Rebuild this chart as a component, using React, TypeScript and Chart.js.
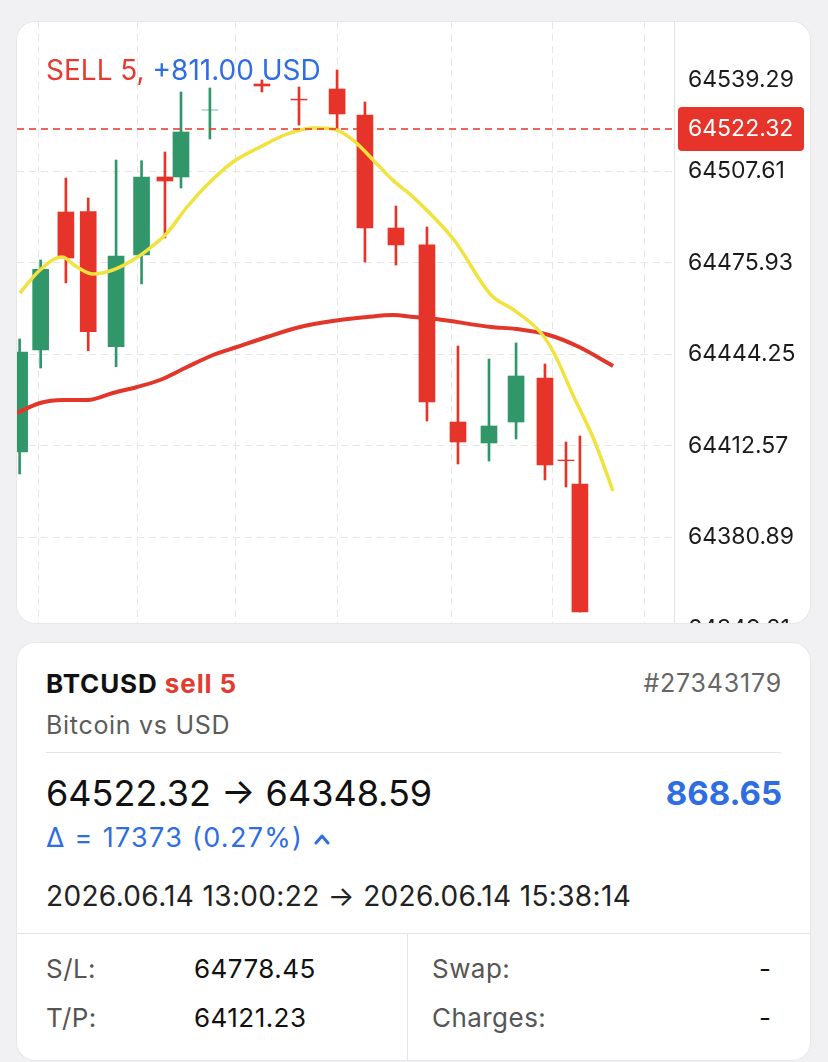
import React, { useEffect, useRef } from "react";
import { Chart, registerables } from "chart.js";

Chart.register(...registerables);

// ---- Data ----
// Bar time positions (bar-period units from the left edge of the visible plot)
const barTime = [0.1, 0.9, 1.86, 2.71, 3.77, 4.74, 5.63, 6.24, 7.34, 9.32, 10.73, 12.18, 13.24, 14.42, 15.6, 16.78, 17.96, 18.99, 20.09, 20.89, 21.42];
const openPrice = [64410.43, 64445.77, 64493.59, 64493.69, 64446.91, 64478.69, 64505.72, 64505.72, 64528.93, 64537.94, 64532.7, 64536.21, 64527.2, 64488.04, 64482.17, 64420.82, 64413.55, 64420.82, 64436.07, 64407.65, 64399.34];
const highPrice = [64449.58, 64476.95, 64505.37, 64498.44, 64511.61, 64511.36, 64514.38, 64535.17, 64536.56, 64539.33, 64536.9, 64542.79, 64531.7, 64495.67, 64488.39, 64447.16, 64442.65, 64448.2, 64440.92, 64413.89, 64415.97];
const lowPrice = [64402.8, 64439.53, 64469.01, 64445.53, 64439.98, 64468.66, 64484.58, 64501.9, 64518.88, 64535.17, 64523.73, 64521.65, 64476.26, 64475.22, 64421.17, 64406.27, 64407.31, 64414.93, 64400.73, 64398.3, 64354.99];
const closePrice = [64445.08, 64473.73, 64477.65, 64452.11, 64478.34, 64505.72, 64504.33, 64521.31, 64528.93, 64537.25, 64532.4, 64527.55, 64488.04, 64482.17, 64427.75, 64413.89, 64419.44, 64436.76, 64405.92, 64407.4, 64354.99];

// Slow moving average (red)
const slowMaTime = [0, 0.875, 1.75, 2.7, 3.65, 4.57, 5.44, 6.47, 7.46, 8.37, 9.51, 10.77, 12.02, 13.32, 14.31, 15.11, 15.94, 18.04, 18.99, 20.24, 21.39, 22.68];
const slowMaValue = [64423.94, 64427.41, 64428.45, 64428.45, 64430.87, 64432.95, 64435.37, 64439.88, 64444.04, 64446.81, 64450.28, 64453.74, 64455.82, 64457.2, 64457.9, 64457.2, 64456.51, 64453.74, 64453.05, 64450.97, 64446.81, 64440.23];

// Fast moving average (yellow)
const fastMaTime = [0.11, 0.875, 1.71, 2.28, 2.89, 3.65, 4.41, 5.06, 5.71, 6.47, 7.23, 8.22, 9.25, 10.27, 11.26, 12.02, 12.79, 13.55, 14.31, 15.11, 16.63, 18.04, 18.91, 19.94, 20.43, 21.19, 21.96, 22.68];
const fastMaValue = [64465.52, 64473.49, 64477.99, 64474.53, 64472.1, 64473.49, 64476.95, 64481.11, 64486.31, 64495.32, 64502.94, 64510.91, 64516.11, 64520.54, 64522.69, 64522.35, 64518.53, 64511.61, 64504.54, 64498.44, 64483.88, 64464.83, 64459.63, 64451.66, 64444.73, 64429.49, 64414.59, 64396.92];

// Axis ticks / ranges
const yTickValues = [64539.29, 64507.61, 64475.93, 64444.25, 64412.57, 64380.89, 64349.21];
const xGridTime = [0.8, 4.57, 8.33, 12.21, 16.55, 20.36, 23.87];
const X_MIN = 0;
const X_MAX = 25;
const Y_MIN = 64342.86;
const Y_MAX = 64559.42;
const ENTRY_PRICE = 64522.32;

// ---- Styles ----
const UP = "#31976a";
const DOWN = "#e6342a";
const YELLOW = "#f2e23e";
const MA_RED = "#e2362b";
const GRID = "#e6e6e6";
const BLUE = "#2e6de2";
const RED_TXT = "#e33b2f";
const BG = "#f1f1f3";
const FONT = "Inter, 'Noto Sans', sans-serif";

const entryPlugin = {
  id: "entryLine",
  afterDatasetsDraw(chart: any) {
    const { ctx, chartArea, scales } = chart;
    const py = scales.y.getPixelForValue(ENTRY_PRICE);
    ctx.save();
    ctx.strokeStyle = DOWN;
    ctx.lineWidth = 1.5;
    ctx.setLineDash([7, 5]);
    ctx.beginPath();
    ctx.moveTo(chartArea.left, py);
    ctx.lineTo(chartArea.right, py);
    ctx.stroke();
    ctx.restore();
  },
  afterDraw(chart: any) {
    const { ctx, chartArea, scales } = chart;
    const py = scales.y.getPixelForValue(ENTRY_PRICE);
    const x = chartArea.right + 4;
    const w = 126;
    const h = 44;
    ctx.save();
    ctx.fillStyle = DOWN;
    ctx.beginPath();
    (ctx as any).roundRect(x, py - h / 2, w, h, 4);
    ctx.fill();
    ctx.fillStyle = "#ffffff";
    ctx.font = `23px ${FONT}`;
    ctx.textBaseline = "middle";
    ctx.textAlign = "left";
    ctx.fillText(ENTRY_PRICE.toFixed(2), chartArea.right + 14, py);
    ctx.restore();
  },
};

function CandleChart() {
  const ref = useRef<HTMLCanvasElement | null>(null);
  useEffect(() => {
    if (!ref.current) return;
    const colors = closePrice.map((c, i) => (c >= openPrice[i] ? UP : DOWN));
    const chart = new Chart(ref.current, {
      type: "bar",
      data: {
        datasets: [
          {
            type: "line",
            label: "MA fast",
            data: fastMaTime.map((t, i) => ({ x: t, y: fastMaValue[i] })),
            borderColor: YELLOW,
            borderWidth: 3.5,
            pointRadius: 0,
            cubicInterpolationMode: "monotone",
            order: 0,
          } as any,
          {
            type: "line",
            label: "MA slow",
            data: slowMaTime.map((t, i) => ({ x: t, y: slowMaValue[i] })),
            borderColor: MA_RED,
            borderWidth: 4,
            pointRadius: 0,
            cubicInterpolationMode: "monotone",
            order: 0,
          } as any,
          {
            type: "bar",
            label: "body",
            data: barTime.map((t, i) => ({ x: t, y: [openPrice[i], closePrice[i]] })),
            backgroundColor: colors,
            borderWidth: 0,
            barThickness: 16,
            grouped: false,
            order: 1,
          } as any,
          {
            type: "bar",
            label: "wick",
            data: barTime.map((t, i) => ({ x: t, y: [lowPrice[i], highPrice[i]] })),
            backgroundColor: colors,
            borderWidth: 0,
            barThickness: 2,
            grouped: false,
            order: 2,
          } as any,
        ],
      },
      options: {
        responsive: false,
        animation: false,
        devicePixelRatio: 1,
        layout: { padding: 0, autoPadding: false },
        plugins: { legend: { display: false }, tooltip: { enabled: false } },
        scales: {
          x: {
            type: "linear",
            min: X_MIN,
            max: X_MAX,
            offset: false,
            grid: { color: GRID, lineWidth: 1, drawTicks: false, offset: false },
            border: { display: false, dash: [7, 5] },
            ticks: { display: false },
            afterBuildTicks: (s: any) => {
              s.ticks = xGridTime.map((v) => ({ value: v }));
            },
            afterFit: (s: any) => {
              s.height = 0;
              s.paddingLeft = 0;
              s.paddingRight = 0;
            },
          },
          y: {
            type: "linear",
            position: "right",
            min: Y_MIN,
            max: Y_MAX,
            grid: {
              color: (c: any) => (c.tick && c.tick.value === yTickValues[0] ? "rgba(0,0,0,0)" : GRID),
              lineWidth: 1,
              drawTicks: false,
            },
            border: { display: true, color: "#e2e2e2", width: 1, dash: [7, 5] },
            ticks: {
              padding: 14,
              color: "#1b1b1b",
              font: { family: FONT, size: 23 },
              autoSkip: false,
              callback: (v: any) => Number(v).toFixed(2),
            },
            afterBuildTicks: (s: any) => {
              s.ticks = yTickValues.map((v) => ({ value: v }));
            },
            afterFit: (s: any) => {
              s.width = 136;
              s.paddingTop = 0;
              s.paddingBottom = 0;
            },
          },
        },
      } as any,
      plugins: [entryPlugin],
    });
    return () => chart.destroy();
  }, []);
  return (
    <canvas
      ref={ref}
      width={793}
      height={625}
      style={{ position: "absolute", left: 0, top: 0, width: 793, height: 625 }}
    />
  );
}

type TProps = {
  x?: number;
  right?: number;
  base: number;
  size: number;
  color?: string;
  weight?: number;
  ls?: number;
  children: React.ReactNode;
};

function T({ x, right, base, size, color = "#111", weight = 400, ls = 0, children }: TProps) {
  const style: React.CSSProperties = {
    position: "absolute",
    top: base - 0.864 * size,
    fontSize: size,
    lineHeight: `${size}px`,
    color,
    fontWeight: weight,
    whiteSpace: "nowrap",
    fontFamily: FONT,
    letterSpacing: ls,
  };
  if (x !== undefined) style.left = x;
  if (right !== undefined) style.right = right;
  return <div style={style}>{children}</div>;
}

export default function App() {
  useEffect(() => {
    document.body.style.margin = "0";
    document.body.style.background = BG;
  }, []);
  return (
    <div
      style={{
        position: "relative",
        width: 828,
        height: 1062,
        background: BG,
        overflow: "hidden",
        fontFamily: FONT,
      }}
    >
      {/* Chart card */}
      <div
        style={{
          position: "absolute",
          left: 17,
          top: 22,
          width: 793,
          height: 601,
          background: "#ffffff",
          borderRadius: 18,
          overflow: "hidden",
          boxShadow: "0 0 0 1px #e7e7ea",
        }}
      >
        <CandleChart />
        <T x={29} base={58} size={28}>
          <span style={{ color: RED_TXT }}>SELL 5,</span>
          <span style={{ color: BLUE }}> +811.00 USD</span>
        </T>
      </div>

      {/* Details card */}
      <div
        style={{
          position: "absolute",
          left: 17,
          top: 643,
          width: 793,
          height: 417,
          background: "#ffffff",
          borderRadius: 18,
          overflow: "hidden",
          boxShadow: "0 0 0 1px #e7e7ea",
        }}
      >
        <T x={29} base={50} size={26} weight={700} color="#111" ls={0.9}>
          BTCUSD <span style={{ color: RED_TXT }}>sell 5</span>
        </T>
        <T right={28} base={50} size={25} color="#666" ls={0.8}>
          #27343179
        </T>
        <T x={29} base={92} size={25} color="#5c5c5c" ls={0.7}>
          Bitcoin vs USD
        </T>
        <div style={{ position: "absolute", left: 29, right: 29, top: 109, height: 1, background: "#e4e4e6" }} />
        <T x={29} base={163} size={36} color="#111">
          64522.32 → 64348.59
        </T>
        <T right={28} base={163} size={33} weight={700} color={BLUE}>
          868.65
        </T>
        <T x={29} base={204} size={27} color={BLUE} ls={1.3}>
          Δ = 17373 (0.27%)
          <svg width="18" height="12" viewBox="0 0 18 12" style={{ marginLeft: 10, verticalAlign: "middle" }}>
            <polyline points="3,10 9,3 15,10" fill="none" stroke={BLUE} strokeWidth="3" strokeLinecap="round" strokeLinejoin="round" />
          </svg>
        </T>
        <T x={29} base={263} size={28} color="#222" ls={0.35}>
          2026.06.14 13:00:22 → 2026.06.14 15:38:14
        </T>
        <div style={{ position: "absolute", left: 0, right: 0, top: 290, height: 1, background: "#e4e4e6" }} />
        <div style={{ position: "absolute", left: 390, top: 290, bottom: 0, width: 1, background: "#e4e4e6" }} />
        <T x={29} base={335} size={26} color="#555" ls={0.45}>S/L:</T>
        <T x={177} base={335} size={26} color="#111" ls={0.45}>64778.45</T>
        <T x={415} base={335} size={26} color="#555" ls={0.45}>Swap:</T>
        <T right={39} base={335} size={26} color="#111">-</T>
        <T x={29} base={384} size={26} color="#555" ls={0.45}>T/P:</T>
        <T x={177} base={384} size={26} color="#111" ls={0.45}>64121.23</T>
        <T x={415} base={384} size={26} color="#555" ls={0.45}>Charges:</T>
        <T right={39} base={384} size={26} color="#111">-</T>
      </div>
    </div>
  );
}
